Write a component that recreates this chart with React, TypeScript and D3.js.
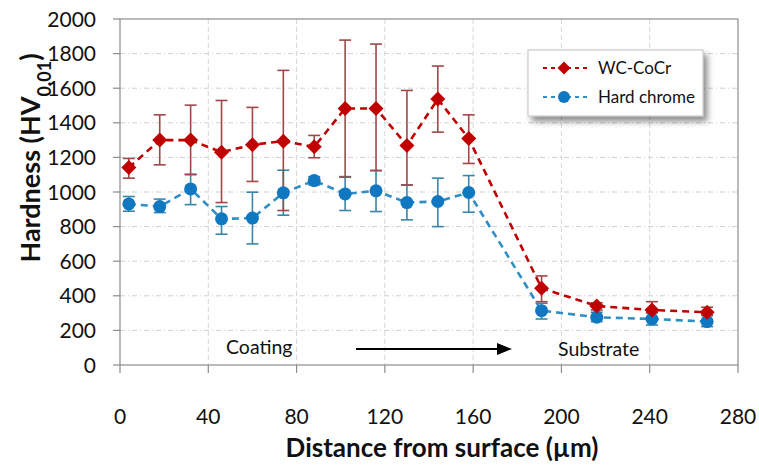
import React from "react";
import * as d3 from "d3";

const distances = [4, 18, 32, 46, 60, 74, 88, 102, 116, 130, 144, 158, 191, 216, 241, 266];
const wcMean = [1141, 1300, 1300, 1230, 1273, 1294, 1261, 1483, 1483, 1269, 1537, 1309, 444, 341, 318, 305];
const wcHigh = [1194, 1446, 1502, 1529, 1489, 1703, 1327, 1878, 1855, 1587, 1728, 1446, 515, 360, 366, 334];
const wcLow = [1080, 1157, 1100, 939, 1061, 893, 1198, 1086, 1124, 1040, 1346, 1165, 366, 318, 303, 289];
const hcMean = [931, 916, 1018, 845, 849, 995, 1066, 989, 1007, 939, 945, 997, 314, 276, 266, 251];
const hcHigh = [974, 959, 1103, 916, 999, 1126, 1089, 1089, 1124, 1041, 1080, 1095, 357, 305, 301, 285];
const hcLow = [889, 881, 927, 756, 700, 866, 1041, 893, 887, 839, 800, 883, 266, 251, 231, 222];
const xTicks = [0, 40, 80, 120, 160, 200, 240, 280];
const yTicks = [0, 200, 400, 600, 800, 1000, 1200, 1400, 1600, 1800, 2000];
const seriesNames = ["WC-CoCr", "Hard chrome"];

const W = 759;
const H = 468;
const left = 120;
const right = 738;
const top = 19;
const bottom = 365;

const RED = "#c00000";
const RED_ERR = "#a04848";
const BLUE = "#0f78c0";
const BLUE_LINE = "#2f8ec4";
const BLUE_ERR = "#3a86a8";
const FONT = "Lato, 'Open Sans', sans-serif";

export default function App() {
  const x = d3.scaleLinear().domain([0, 280]).range([left, right]);
  const y = d3.scaleLinear().domain([0, 2000]).range([bottom, top]);
  const line = d3
    .line<number>()
    .x((_, i) => x(distances[i]))
    .y((d) => y(d));

  const diamond = (cx: number, cy: number, r: number) =>
    `M${cx},${cy - r}L${cx + r},${cy}L${cx},${cy + r}L${cx - r},${cy}Z`;

  const errBars = (lo: number[], hi: number[], color: string) =>
    distances.map((d, i) => {
      const cx = x(d);
      return (
        <g key={i} stroke={color} strokeWidth={1.6}>
          <line x1={cx} x2={cx} y1={y(lo[i])} y2={y(hi[i])} />
          <line x1={cx - 6} x2={cx + 6} y1={y(lo[i])} y2={y(lo[i])} />
          <line x1={cx - 6} x2={cx + 6} y1={y(hi[i])} y2={y(hi[i])} />
        </g>
      );
    });

  return (
    <svg
      width={W}
      height={H}
      style={{ position: "absolute", left: 0, top: 0, background: "#fff" }}
      fontFamily={FONT}
    >
      <defs>
        <filter id="shadow" x="-20%" y="-20%" width="150%" height="170%">
          <feGaussianBlur in="SourceAlpha" stdDeviation="3" />
          <feOffset dx="4" dy="5" result="ob" />
          <feComponentTransfer>
            <feFuncA type="linear" slope="0.45" />
          </feComponentTransfer>
          <feMerge>
            <feMergeNode />
            <feMergeNode in="SourceGraphic" />
          </feMerge>
        </filter>
      </defs>

      {/* gridlines */}
      {yTicks.slice(1, -1).map((t) => (
        <line
          key={"gy" + t}
          x1={left}
          x2={right}
          y1={y(t)}
          y2={y(t)}
          stroke="#d0d0d0"
          strokeDasharray="5,3,1,3"
          strokeWidth={1}
        />
      ))}
      {xTicks.slice(1, -1).map((t) => (
        <line
          key={"gx" + t}
          x1={x(t)}
          x2={x(t)}
          y1={top}
          y2={bottom}
          stroke="#d6d6d6"
          strokeDasharray="5,3"
          strokeWidth={1}
        />
      ))}

      {/* frame */}
      <rect x={left} y={top} width={right - left} height={bottom - top} fill="none" stroke="#8c8c8c" strokeWidth={1.2} />

      {/* axis ticks */}
      {yTicks.map((t) => (
        <g key={"yt" + t}>
          <line x1={left - 7} x2={left} y1={y(t)} y2={y(t)} stroke="#8c8c8c" strokeWidth={1.2} />
          <text x={96} y={y(t)} dy="0.36em" textAnchor="end" fontSize={21} fill="#111">
            {t}
          </text>
        </g>
      ))}
      {xTicks.map((t) => (
        <g key={"xt" + t}>
          <line x1={x(t)} x2={x(t)} y1={bottom} y2={bottom + 8} stroke="#8c8c8c" strokeWidth={1.2} />
          <text x={x(t)} y={416} dy="0.36em" textAnchor="middle" fontSize={21} fill="#111">
            {t}
          </text>
        </g>
      ))}

      {/* axis titles */}
      <text x={442} y={448} dy="0.36em" textAnchor="middle" fontSize={26} fontWeight="bold" fill="#111">
        Distance from surface (µm)
      </text>
      <text
        transform={`translate(30,158) rotate(-90)`}
        textAnchor="middle"
        dy="0.36em"
        fontSize={27}
        fontWeight="bold"
        fill="#111"
      >
        Hardness (HV<tspan baselineShift="sub" fontSize={18}>0.01</tspan>)
      </text>

      {/* annotations */}
      <text x={226} y={347} dy="0.36em" fontSize={19.5} fill="#111">
        Coating
      </text>
      <line x1={356} x2={497} y1={349} y2={349} stroke="#000" strokeWidth={2} />
      <path d="M497,343L512,349L497,355Z" fill="#000" />
      <text x={558} y={349} dy="0.36em" fontSize={19.5} fill="#111">
        Substrate
      </text>

      {/* error bars */}
      {errBars(hcLow, hcHigh, BLUE_ERR)}
      {errBars(wcLow, wcHigh, RED_ERR)}

      {/* lines */}
      <path d={line(hcMean) || ""} fill="none" stroke={BLUE_LINE} strokeWidth={2.6} strokeDasharray="7,5" />
      <path d={line(wcMean) || ""} fill="none" stroke={RED} strokeWidth={2.6} strokeDasharray="7,5" />

      {/* markers */}
      {hcMean.map((v, i) => (
        <circle key={"hc" + i} cx={x(distances[i])} cy={y(v)} r={6.5} fill={BLUE} />
      ))}
      {wcMean.map((v, i) => (
        <path key={"wc" + i} d={diamond(x(distances[i]), y(v), 7.5)} fill={RED} />
      ))}

      {/* legend */}
      <g>
        <rect x={528} y={50} width={175} height={66} fill="#fff" stroke="#bfbfbf" strokeWidth={1} filter="url(#shadow)" />
        <line x1={543} x2={588} y1={68} y2={68} stroke={RED} strokeWidth={2} strokeDasharray="4,4" />
        <path d={diamond(564, 68, 6.5)} fill={RED} />
        <text x={598} y={68} dy="0.36em" fontSize={17} fill="#111">
          {seriesNames[0]}
        </text>
        <line x1={543} x2={588} y1={97} y2={97} stroke={BLUE_LINE} strokeWidth={2} strokeDasharray="4,4" />
        <circle cx={564} cy={97} r={6} fill={BLUE} />
        <text x={598} y={97} dy="0.36em" fontSize={17} fill="#111">
          {seriesNames[1]}
        </text>
      </g>
    </svg>
  );
}
